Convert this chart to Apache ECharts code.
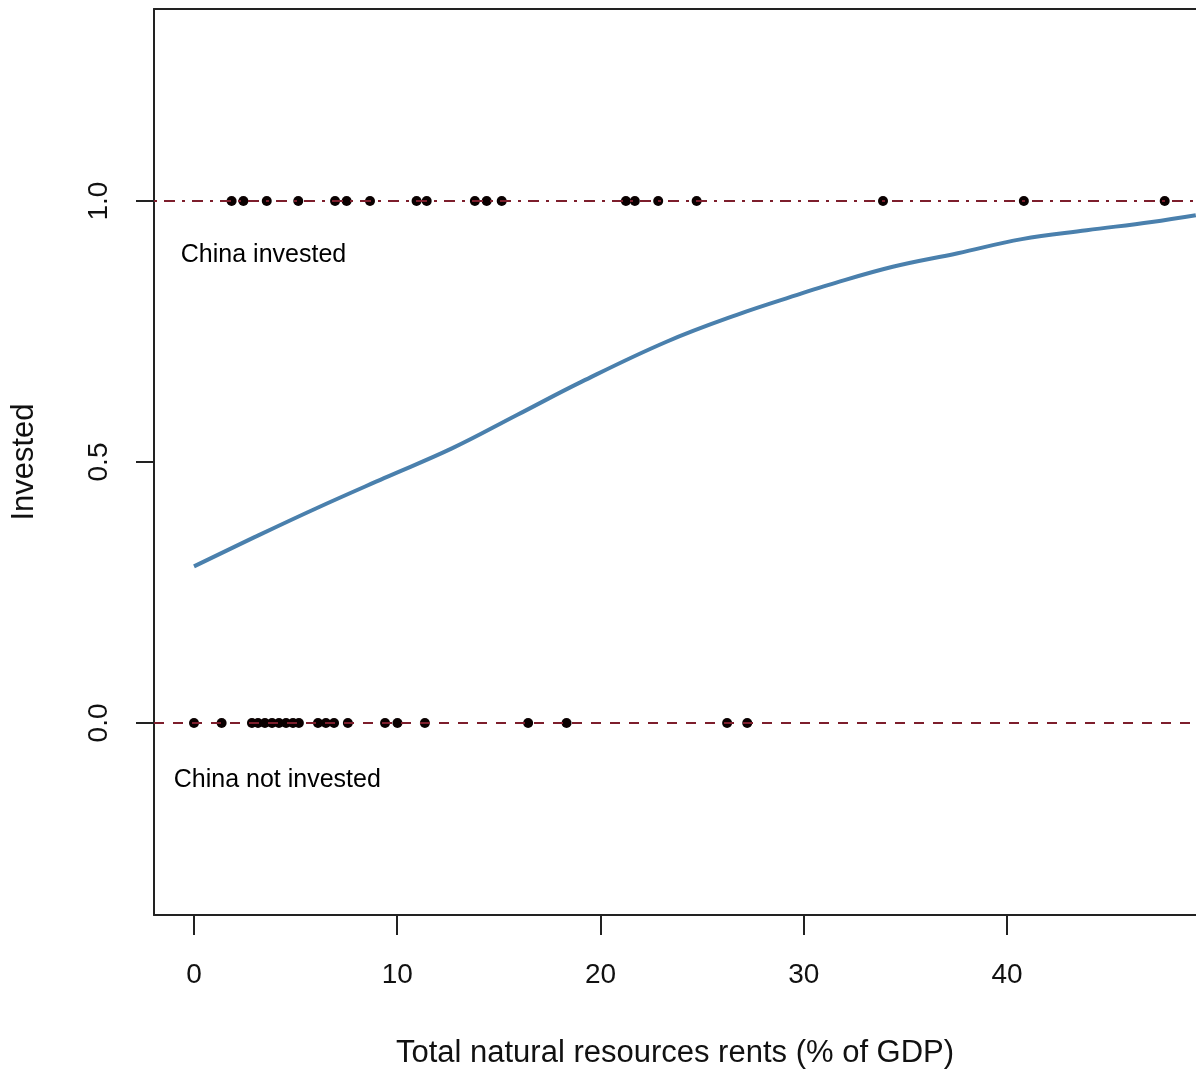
<!DOCTYPE html>
<html>
<head>
<meta charset="utf-8">
<script src="https://cdn.jsdelivr.net/npm/echarts@6/dist/echarts.min.js"></script>
<style>
  html, body { margin: 0; padding: 0; background: #fff; }
  #chart { width: 1196px; height: 1070px; }
</style>
</head>
<body>
<div id="chart"></div>
<script>
// ---- data ----
const investedX = [1.85, 2.43, 3.58, 5.13, 6.94, 7.51, 8.66, 10.95, 11.45, 13.82, 14.40, 15.14,
                   21.25, 21.69, 22.84, 24.73, 33.90, 40.83, 47.76];
const notInvestedX = [0.0, 1.36, 2.85, 3.15, 3.49, 3.84, 4.18, 4.53, 4.87, 5.16, 6.10, 6.49,
                      6.89, 7.57, 9.40, 10.01, 11.36, 16.44, 18.33, 26.23, 27.22];
const curveX = [0, 2.98, 6.0, 9.35, 12.69, 15.89, 19.08, 23.22, 26.71, 29.9, 31.19, 34.38, 37.58, 40.73, 43.92, 47.12, 49.29];
const curveY = [0.300, 0.356, 0.411, 0.469, 0.526, 0.590, 0.654, 0.730, 0.782, 0.823, 0.839, 0.874, 0.900, 0.927, 0.944, 0.960, 0.973];
const xTicks = [0, 10, 20, 30, 40];
const xTickLabels = ['0', '10', '20', '30', '40'];
const yTicks = [0, 0.5, 1];
const yTickLabels = ['0.0', '0.5', '1.0'];
const annotationTexts = ['China invested', 'China not invested'];
const annotationX = [3.42, 4.10];
const annotationY = [0.897, -0.109];
const xTitle = 'Total natural resources rents (% of GDP)';
const yTitle = 'Invested';

// ---- chart ----
const FONT = "'Liberation Sans', Arial, sans-serif";
const xMin = -1.968, xMax = 49.3, yMin = -0.368, yMax = 1.368;
const boxLine = { show: true, onZero: false, lineStyle: { color: '#222', width: 2 } };
const refColor = '#7d1e2c';
const textColor = '#111';

const chart = echarts.init(document.getElementById('chart'), null, { renderer: 'canvas' });
chart.setOption({
  backgroundColor: '#fff',
  animation: false,
  grid: { left: 154, top: 9, right: 0, bottom: 155, containLabel: false, outerBoundsMode: 'none' },
  xAxis: [{
    type: 'value', min: xMin, max: xMax, position: 'bottom',
    axisLine: boxLine,
    axisTick: { show: true, length: 20, customValues: xTicks, lineStyle: { color: '#222', width: 2 } },
    axisLabel: {
      customValues: xTicks, margin: 46, fontSize: 28, color: textColor, fontFamily: FONT,
      formatter: v => xTickLabels[xTicks.indexOf(v)] ?? ''
    },
    splitLine: { show: false },
    name: xTitle, nameLocation: 'middle', nameGap: 123,
    nameTextStyle: { fontSize: 31, color: textColor, fontFamily: FONT }
  }, {
    type: 'value', min: xMin, max: xMax, position: 'top',
    axisLine: boxLine, axisTick: { show: false }, axisLabel: { show: false }, splitLine: { show: false }
  }],
  yAxis: [{
    type: 'value', min: yMin, max: yMax,
    axisLine: boxLine,
    axisTick: { show: true, length: 18, customValues: yTicks, lineStyle: { color: '#222', width: 2 } },
    axisLabel: {
      customValues: yTicks, rotate: 90, margin: 41, fontSize: 28, color: textColor, fontFamily: FONT,
      formatter: v => yTickLabels[yTicks.indexOf(v)] ?? ''
    },
    splitLine: { show: false },
    name: yTitle, nameLocation: 'middle', nameGap: 114,
    nameTextStyle: { fontSize: 31, color: textColor, fontFamily: FONT }
  }],
  series: [
    {
      name: 'ref', type: 'line', data: [], silent: true,
      markLine: {
        silent: true, symbol: 'none', label: { show: false },
        data: [
          { yAxis: 1, lineStyle: { color: refColor, width: 2, type: [3, 7, 11, 7] } },
          { yAxis: 0, lineStyle: { color: refColor, width: 2, type: [10, 9] } }
        ]
      }
    },
    {
      name: 'fit', type: 'line', smooth: 0.4, showSymbol: false, silent: true,
      lineStyle: { color: '#4a80ad', width: 4 },
      data: curveX.map((x, i) => [x, curveY[i]]), z: 3
    },
    {
      name: 'invested', type: 'scatter', symbol: 'circle', symbolSize: 10,
      itemStyle: { color: '#0a0000', opacity: 1 },
      data: investedX.map(x => [x, 1]), z: 4
    },
    {
      name: 'not invested', type: 'scatter', symbol: 'circle', symbolSize: 10,
      itemStyle: { color: '#0a0000', opacity: 1 },
      data: notInvestedX.map(x => [x, 0]), z: 4
    },
    {
      name: 'labels', type: 'scatter', symbolSize: 0, silent: true,
      itemStyle: { opacity: 1 },
      data: annotationTexts.map((t, i) => ({ name: t, value: [annotationX[i], annotationY[i]] })),
      label: {
        show: true, position: 'inside', formatter: p => p.name,
        fontSize: 25, color: '#000', fontFamily: FONT
      }
    }
  ]
});
</script>
</body>
</html>
